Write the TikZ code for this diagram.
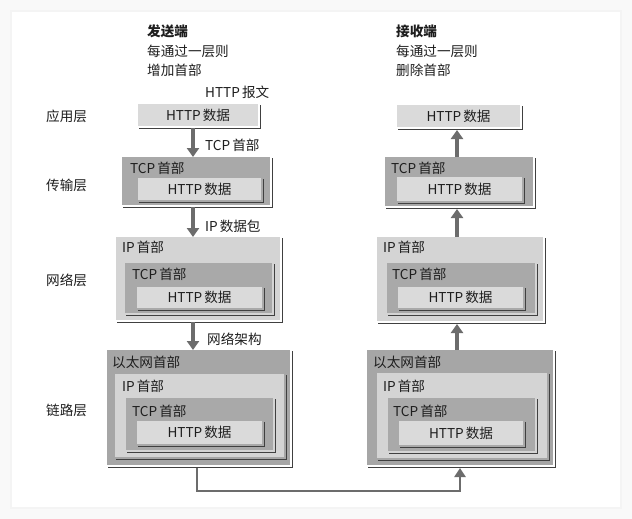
\documentclass[tikz,border=0pt]{standalone}
\usepackage{fontspec}
\setmainfont{Noto Sans CJK SC}
\usetikzlibrary{arrows.meta,calc}
\definecolor{httpc}{HTML}{DADADA}
\definecolor{tcpc}{HTML}{A9A9A9}
\definecolor{ipc}{HTML}{D4D4D4}
\definecolor{ethc}{HTML}{A6A6A6}
\definecolor{shadc}{HTML}{404040}
\definecolor{arrc}{HTML}{6C6C6C}
\definecolor{txtc}{HTML}{1E1E1E}
\newcommand\layerbox[7]{%
  \node[lbox,fill=#6,anchor=north west,minimum width={(#4)-(#2)},minimum height={(#5)-(#3)}] (#1) at (#2,#3) {#7};
  \draw[shad] ([xshift=2.5pt,yshift=-1pt]#1.north east) -- ([xshift=2.5pt,yshift=-2.5pt]#1.south east) -- ([xshift=1pt,yshift=-2.5pt]#1.south west);
}
\newcommand\mygap{\hspace{2pt}}
\begin{document}
\begin{tikzpicture}[x=1pt,y=-1pt,
  every node/.style={text=txtc,font=\fontsize{13.6}{15}\selectfont},
  lbox/.style={draw=none,inner sep=0pt,outer sep=0pt},
  shad/.style={draw=shadc,line width=1.9pt},
  lbl/.style={anchor=west,inner sep=0pt},
  bigarrow/.style={draw=arrc,line width=3.6pt,-{Triangle[width=12pt,length=9pt]}},
  link/.style={draw=arrc,line width=2.6pt,-{Triangle[width=11pt,length=9pt]}}]
\useasboundingbox (0,0) rectangle (632,519);
\fill[gray!5] (0,0) rectangle (632,519);
\fill[gray!9] (10,10) rectangle (622,509);
\fill[white] (12,12) rectangle (620,507);

% headers
\node[lbl,font=\fontsize{13.6}{15}\selectfont\bfseries] (hs1) at (147,31) {发送端};
\node[lbl] (hs2) at (147,51) {每通过一层则};
\node[lbl] (hs3) at (147,70) {增加首部};
\node[lbl,font=\fontsize{13.6}{15}\selectfont\bfseries] (hr1) at (396,31) {接收端};
\node[lbl] (hr2) at (396,51) {每通过一层则};
\node[lbl] (hr3) at (396,70) {删除首部};

% layer names
\node[lbl] (l1) at (46,116) {应用层};
\node[lbl] (l2) at (46,185) {传输层};
\node[lbl] (l3) at (46,280) {网络层};
\node[lbl] (l4) at (46,410) {链路层};

% ---- left column (sender)
\node[lbl] (msg) at (205,92) {HTTP\mygap 报文};
\layerbox{aL}{138}{104}{258}{126}{httpc}{HTTP\mygap 数据}

\layerbox{tL}{122}{157}{270}{205}{tcpc}{}
\node[lbl] (tLh) at (130,168) {TCP\mygap 首部};
\layerbox{tLa}{138}{178}{261}{200}{httpc}{HTTP\mygap 数据}

\layerbox{nL}{116}{237}{280}{320}{ipc}{}
\node[lbl] (nLh) at (122,247) {IP\mygap 首部};
\layerbox{nLt}{125}{263}{272}{313}{tcpc}{}
\node[lbl] (nLth) at (132,274) {TCP\mygap 首部};
\layerbox{nLa}{137}{287}{262}{308}{httpc}{HTTP\mygap 数据}

\layerbox{eL}{107}{350}{290}{465}{ethc}{}
\node[lbl] (eLh) at (112,362) {以太网首部};
\layerbox{eLi}{115}{374}{284}{457}{ipc}{}
\node[lbl] (eLih) at (122,386) {IP\mygap 首部};
\layerbox{eLt}{126}{398}{273}{450}{tcpc}{}
\node[lbl] (eLth) at (132,411) {TCP\mygap 首部};
\layerbox{eLa}{137}{421}{262}{444}{httpc}{HTTP\mygap 数据}

% ---- right column (receiver)
\layerbox{aR}{397}{105}{520}{127}{httpc}{HTTP\mygap 数据}

\layerbox{tR}{385}{157}{533}{206}{tcpc}{}
\node[lbl] (tRh) at (391,168) {TCP\mygap 首部};
\layerbox{tRa}{397}{177}{522}{201}{httpc}{HTTP\mygap 数据}

\layerbox{nR}{377}{237}{543}{321}{ipc}{}
\node[lbl] (nRh) at (383,247) {IP\mygap 首部};
\layerbox{nRt}{387}{263}{535}{313}{tcpc}{}
\node[lbl] (nRth) at (392,274) {TCP\mygap 首部};
\layerbox{nRa}{398}{287}{523}{308}{httpc}{HTTP\mygap 数据}

\layerbox{eR}{367}{350}{553}{465}{ethc}{}
\node[lbl] (eRh) at (373,362) {以太网首部};
\layerbox{eRi}{377}{373}{547}{458}{ipc}{}
\node[lbl] (eRih) at (383,386) {IP\mygap 首部};
\layerbox{eRt}{388}{398}{535}{451}{tcpc}{}
\node[lbl] (eRth) at (393,411) {TCP\mygap 首部};
\layerbox{eRa}{399}{421}{523}{445}{httpc}{HTTP\mygap 数据}

% ---- arrows
\coordinate (colL) at (193,0);
\coordinate (colR) at (457,0);
\coordinate (linkL) at (197,0);
\coordinate (linkR) at (460,0);
\coordinate (bot) at (0,491);

\draw[bigarrow] ([yshift=-2pt]aL.south -| colL) -- (tL.north -| colL);
\draw[bigarrow] ([yshift=-2pt]tL.south -| colL) -- (nL.north -| colL);
\draw[bigarrow] ([yshift=-2pt]nL.south -| colL) -- (eL.north -| colL);
\node[lbl] (lab1) at (205,145) {TCP\mygap 首部};
\node[lbl] (lab2) at (205,226) {IP\mygap 数据包};
\node[lbl] (lab3) at (207,339) {网络架构};

\draw[bigarrow] (eR.north -| colR) -- ([yshift=-3pt]nR.south -| colR);
\draw[bigarrow] (nR.north -| colR) -- ([yshift=-3pt]tR.south -| colR);
\draw[bigarrow] (tR.north -| colR) -- ([yshift=-3pt]aR.south -| colR);

\draw[link] ([yshift=-3pt]eL.south -| linkL) -- (bot -| linkL) -- (bot -| linkR) -- ([yshift=-3pt]eR.south -| linkR);
\end{tikzpicture}
\end{document}
